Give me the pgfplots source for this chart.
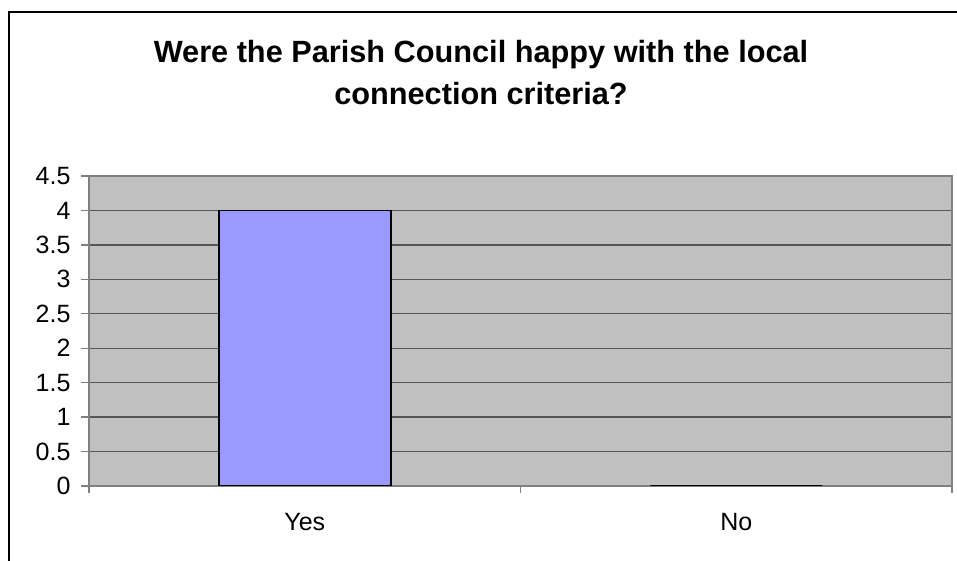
\documentclass[border=0pt]{standalone}
\usepackage{fontspec}
\setmainfont{Liberation Sans}
\usepackage{pgfplots}
\pgfplotsset{compat=1.18}
\definecolor{plotbg}{RGB}{192,192,192}
\definecolor{barfill}{RGB}{153,153,255}
\definecolor{gridc}{RGB}{85,85,85}
\definecolor{axisc}{RGB}{128,128,128}
\begin{document}
\begin{tikzpicture}
\useasboundingbox (0pt,0pt) rectangle (957pt,561pt);
\draw[black,line width=1.3pt] (9pt,-2pt) -- (9pt,549pt) -- (959pt,549pt);
\node[anchor=base,inner sep=0pt,font=\fontsize{30.7}{36}\selectfont\bfseries] at (481pt,498pt) {Were the Parish Council happy with the local};
\node[anchor=base,inner sep=0pt,font=\fontsize{30.7}{36}\selectfont\bfseries] at (481pt,456pt) {connection criteria?};
\begin{axis}[
  at={(89pt,75pt)}, anchor=south west,
  width=863pt, height=310pt, scale only axis,
  xmin=-0.5, xmax=1.5, ymin=0, ymax=4.5,
  ybar, bar width=172pt,
  axis background/.style={fill=plotbg},
  axis line style={axisc, line width=1.3pt},
  xtick={0,1}, xticklabels={Yes,No},
  minor xtick={-0.5,0.5,1.5},
  ytick={0,0.5,1,1.5,2,2.5,3,3.5,4,4.5},
  tick pos=left, tick align=outside,
  major tick length=8pt, minor tick length=7pt,
  tick style={axisc, line width=1.3pt},
  major x tick style={draw=none},
  ymajorgrids, grid style={gridc, line width=1.3pt},
  /pgf/number format/assume math mode=true,
  ticklabel style={font=\fontsize{25}{30}\selectfont},
  yticklabel style={/pgf/number format/fixed, xshift=-7pt},
  xticklabel style={yshift=-16pt},
]
\addplot[fill=barfill, draw=black, line width=1.5pt] coordinates {(0,4) (1,0)};
\end{axis}
\end{tikzpicture}
\end{document}
